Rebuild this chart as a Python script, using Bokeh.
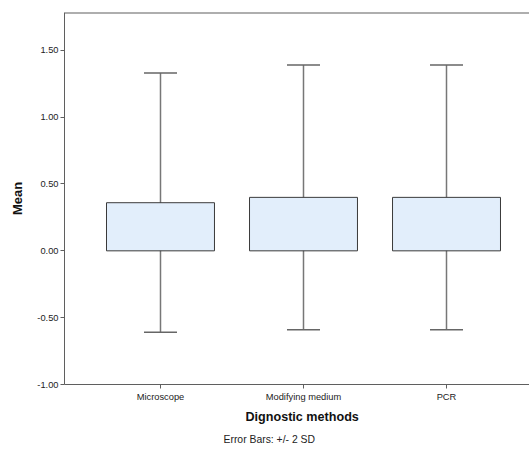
from bokeh.plotting import figure
from bokeh.models import (ColumnDataSource, Range1d, FixedTicker,
                          Whisker, TeeHead, Title, NumeralTickFormatter)
from bokeh.embed import file_html
from bokeh.resources import INLINE

# data
categories = ["Microscope", "Modifying medium", "PCR"]
means = [0.36, 0.40, 0.40]
upper = [1.33, 1.39, 1.39]
lower = [-0.61, -0.59, -0.59]
y_ticks = [-1.0, -0.5, 0.0, 0.5, 1.0, 1.5]
y_top = 1.783

xs = list(range(1, len(categories) + 1))
src = ColumnDataSource(dict(x=xs, mean=means, upper=upper, lower=lower))

FONT = "Liberation Sans"
AX = "#5f5f5f"
TXT = "#222222"

p = figure(width=529, height=450, output_backend="svg", toolbar_location=None,
           x_range=Range1d(0.3287, 3.5804), y_range=Range1d(-1.0, y_top),
           min_border_left=64, min_border_right=0, min_border_top=12,
           min_border_bottom=66, x_axis_location="below")
p.outline_line_color = None
p.grid.visible = False
p.background_fill_color = "white"
p.border_fill_color = "white"

p.vbar(x="x", top="mean", bottom=0, width=0.755, source=src,
       fill_color="#e2eefb", line_color="#3a3a3a", line_width=1)

w = Whisker(base="x", upper="upper", lower="lower", source=src,
            line_color="#777777", line_width=1.5,
            upper_head=TeeHead(size=33, line_color="#666666", line_width=1.5),
            lower_head=TeeHead(size=33, line_color="#666666", line_width=1.5))
p.add_layout(w)

# top frame line
p.hspan(y=[y_top], line_color=AX, line_width=2)

# y axis
ya = p.yaxis[0]
ya.ticker = FixedTicker(ticks=y_ticks)
ya.formatter = NumeralTickFormatter(format="0.00")
ya.axis_label = "Mean"
ya.axis_label_text_font = FONT
ya.axis_label_text_font_style = "bold"
ya.axis_label_text_font_size = "13px"
ya.axis_label_text_color = "#111111"
ya.axis_label_standoff = 9
ya.major_label_text_font = FONT
ya.major_label_text_font_size = "9.3px"
ya.major_label_text_color = TXT
ya.major_label_standoff = 2
ya.major_tick_out = 4
ya.major_tick_in = 0
ya.minor_tick_line_color = None
ya.axis_line_color = AX
ya.major_tick_line_color = AX

# x axis
xa = p.xaxis[0]
xa.ticker = FixedTicker(ticks=xs)
xa.major_label_overrides = {x: c for x, c in zip(xs, categories)}
xa.major_label_text_font = FONT
xa.major_label_text_font_size = "9.3px"
xa.major_label_text_color = TXT
xa.major_label_standoff = 3
xa.major_tick_out = 4
xa.major_tick_in = 0
xa.minor_tick_line_color = None
xa.axis_line_color = AX
xa.major_tick_line_color = AX

xlab = Title(text="Dignostic methods", align="left", offset=181,
             text_font=FONT, text_font_size="12.6px", text_font_style="bold",
             text_color="#111111", standoff=6)
p.add_layout(xlab, "below")

cap = Title(text="Error Bars:  +/- 2 SD", align="left", offset=159,
            text_font=FONT, text_font_size="10.4px", text_font_style="normal",
            text_color=TXT, standoff=11)
p.add_layout(cap, "below")

open("out.html", "w").write(file_html(p, INLINE))
